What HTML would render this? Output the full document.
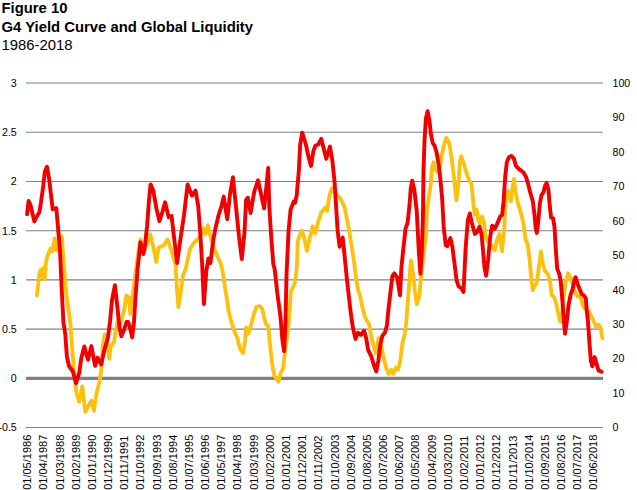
<!DOCTYPE html>
<html><head><meta charset="utf-8"><title>Figure 10</title>
<style>
html,body{margin:0;padding:0;background:#fff;}
body{width:637px;height:490px;overflow:hidden;position:relative;font-family:"Liberation Sans",sans-serif;color:#000;}
.t{position:absolute;left:1.5px;white-space:nowrap;font-size:14.85px;line-height:18px;}
.b{font-weight:bold;}
svg{position:absolute;left:0;top:0;}
svg text{font-family:"Liberation Sans",sans-serif;font-size:10.67px;fill:#000;}
</style></head><body>
<div class="t b" style="top:-0.7px">Figure 10</div>
<div class="t b" style="top:18.1px">G4 Yield Curve and Global Liquidity</div>
<div class="t" style="top:35.5px">1986-2018</div>
<svg width="637" height="490" viewBox="0 0 637 490">

<line x1="26" x2="603" y1="83.05" y2="83.05" stroke="#808080" stroke-width="1.1"/>
<line x1="26" x2="603" y1="132.27" y2="132.27" stroke="#808080" stroke-width="1.1"/>
<line x1="26" x2="603" y1="181.48" y2="181.48" stroke="#808080" stroke-width="1.1"/>
<line x1="26" x2="603" y1="230.70" y2="230.70" stroke="#808080" stroke-width="1.1"/>
<line x1="26" x2="603" y1="279.91" y2="279.91" stroke="#808080" stroke-width="1.1"/>
<line x1="26" x2="603" y1="329.13" y2="329.13" stroke="#808080" stroke-width="1.1"/>
<line x1="26" x2="603" y1="378.35" y2="378.35" stroke="#808080" stroke-width="3.2"/>
<line x1="26" x2="603" y1="427.56" y2="427.56" stroke="#808080" stroke-width="1.1"/>
<text x="16.8" y="86.85" text-anchor="end">3</text>
<text x="16.8" y="136.07" text-anchor="end">2.5</text>
<text x="16.8" y="185.28" text-anchor="end">2</text>
<text x="16.8" y="234.50" text-anchor="end">1.5</text>
<text x="16.8" y="283.71" text-anchor="end">1</text>
<text x="16.8" y="332.93" text-anchor="end">0.5</text>
<text x="16.8" y="382.15" text-anchor="end">0</text>
<text x="16.8" y="431.36" text-anchor="end">-0.5</text>
<text x="612.5" y="86.80">100</text>
<text x="612.5" y="121.26">90</text>
<text x="612.5" y="155.72">80</text>
<text x="612.5" y="190.18">70</text>
<text x="612.5" y="224.64">60</text>
<text x="612.5" y="259.10">50</text>
<text x="612.5" y="293.56">40</text>
<text x="612.5" y="328.02">30</text>
<text x="612.5" y="362.48">20</text>
<text x="612.5" y="396.94">10</text>
<text x="612.5" y="431.40">0</text>
<text style="font-size:11px" transform="translate(31.15,489.8) rotate(-90)">01/05/1986</text>
<text style="font-size:11px" transform="translate(47.33,489.8) rotate(-90)">01/04/1987</text>
<text style="font-size:11px" transform="translate(63.51,489.8) rotate(-90)">01/03/1988</text>
<text style="font-size:11px" transform="translate(79.69,489.8) rotate(-90)">01/02/1989</text>
<text style="font-size:11px" transform="translate(95.87,489.8) rotate(-90)">01/01/1990</text>
<text style="font-size:11px" transform="translate(112.05,489.8) rotate(-90)">01/12/1990</text>
<text style="font-size:11px" transform="translate(128.23,489.8) rotate(-90)">01/11/1991</text>
<text style="font-size:11px" transform="translate(144.41,489.8) rotate(-90)">01/10/1992</text>
<text style="font-size:11px" transform="translate(160.59,489.8) rotate(-90)">01/09/1993</text>
<text style="font-size:11px" transform="translate(176.77,489.8) rotate(-90)">01/08/1994</text>
<text style="font-size:11px" transform="translate(192.95,489.8) rotate(-90)">01/07/1995</text>
<text style="font-size:11px" transform="translate(209.13,489.8) rotate(-90)">01/06/1996</text>
<text style="font-size:11px" transform="translate(225.31,489.8) rotate(-90)">01/05/1997</text>
<text style="font-size:11px" transform="translate(241.49,489.8) rotate(-90)">01/04/1998</text>
<text style="font-size:11px" transform="translate(257.67,489.8) rotate(-90)">01/03/1999</text>
<text style="font-size:11px" transform="translate(273.85,489.8) rotate(-90)">01/02/2000</text>
<text style="font-size:11px" transform="translate(290.03,489.8) rotate(-90)">01/01/2001</text>
<text style="font-size:11px" transform="translate(306.21,489.8) rotate(-90)">01/12/2001</text>
<text style="font-size:11px" transform="translate(322.39,489.8) rotate(-90)">01/11/2002</text>
<text style="font-size:11px" transform="translate(338.57,489.8) rotate(-90)">01/10/2003</text>
<text style="font-size:11px" transform="translate(354.75,489.8) rotate(-90)">01/09/2004</text>
<text style="font-size:11px" transform="translate(370.93,489.8) rotate(-90)">01/08/2005</text>
<text style="font-size:11px" transform="translate(387.11,489.8) rotate(-90)">01/07/2006</text>
<text style="font-size:11px" transform="translate(403.29,489.8) rotate(-90)">01/06/2007</text>
<text style="font-size:11px" transform="translate(419.47,489.8) rotate(-90)">01/05/2008</text>
<text style="font-size:11px" transform="translate(435.65,489.8) rotate(-90)">01/04/2009</text>
<text style="font-size:11px" transform="translate(451.83,489.8) rotate(-90)">01/03/2010</text>
<text style="font-size:11px" transform="translate(468.01,489.8) rotate(-90)">01/02/2011</text>
<text style="font-size:11px" transform="translate(484.19,489.8) rotate(-90)">01/01/2012</text>
<text style="font-size:11px" transform="translate(500.37,489.8) rotate(-90)">01/12/2012</text>
<text style="font-size:11px" transform="translate(516.55,489.8) rotate(-90)">01/11/2013</text>
<text style="font-size:11px" transform="translate(532.73,489.8) rotate(-90)">01/10/2014</text>
<text style="font-size:11px" transform="translate(548.91,489.8) rotate(-90)">01/09/2015</text>
<text style="font-size:11px" transform="translate(565.09,489.8) rotate(-90)">01/08/2016</text>
<text style="font-size:11px" transform="translate(581.27,489.8) rotate(-90)">01/07/2017</text>
<text style="font-size:11px" transform="translate(597.45,489.8) rotate(-90)">01/06/2018</text>
<polyline fill="none" stroke="#FCC10C" stroke-width="3.8" stroke-linejoin="round" stroke-linecap="round" points="36.9,295.4 39.4,273.0 40.6,270.0 42.0,277.0 43.4,268.0 44.8,279.0 46.0,262.0 47.6,255.6 50.6,248.5 52.2,251.5 54.7,238.3 56.7,250.5 59.0,248.0 61.8,236.2 63.9,265.8 66.5,296.4 69.0,312.8 70.5,325.0 72.0,346.5 74.1,371.0 76.1,391.4 79.2,401.6 82.2,386.3 85.3,411.8 88.4,405.7 91.4,400.6 93.9,410.8 96.5,393.5 99.6,381.2 101.6,367.0 102.7,346.5 104.7,334.3 107.0,340.0 109.2,358.8 110.8,346.5 113.9,342.4 115.9,330.2 118.0,320.0 120.0,325.0 124.0,310.7 126.5,295.4 129.0,297.4 130.2,314.0 132.0,300.0 134.0,285.0 136.5,265.0 140.4,239.3 142.0,246.6 144.0,252.0 147.0,244.0 150.2,234.4 153.3,246.6 156.3,262.0 158.4,247.7 163.5,245.6 167.6,239.5 171.6,250.7 173.7,258.9 175.7,265.2 176.7,285.6 178.4,307.0 180.8,291.7 182.9,275.4 185.9,268.3 188.0,258.0 190.0,248.7 194.1,242.6 198.2,238.5 200.5,236.0 203.3,228.3 205.3,234.4 207.8,225.2 210.4,236.4 213.5,246.6 217.6,256.8 220.6,263.2 222.7,271.3 224.7,285.6 226.7,297.9 228.8,312.1 231.8,323.4 234.9,332.6 237.6,338.7 240.0,348.9 243.1,353.0 245.1,340.7 246.1,327.4 248.2,333.6 251.2,324.4 253.3,316.2 256.3,307.0 259.4,306.0 262.4,309.1 264.1,317.4 266.1,324.6 268.2,325.6 270.2,346.0 272.2,364.4 274.3,375.6 278.4,381.7 280.4,373.6 283.1,368.5 284.5,356.2 287.6,333.8 289.6,313.4 290.8,291.6 294.7,283.5 296.7,269.2 297.8,240.6 301.8,230.4 303.9,236.5 306.9,250.8 310.0,236.5 312.7,226.3 315.1,233.5 318.2,222.0 321.2,212.5 325.3,207.8 327.3,210.8 329.4,195.5 331.8,188.4 335.0,192.0 338.6,196.5 341.6,200.6 344.7,207.8 346.3,216.0 348.8,228.4 351.8,246.7 353.9,261.0 355.9,277.3 358.0,289.6 360.0,295.7 362.0,305.5 365.1,317.4 369.2,324.6 371.2,335.8 373.3,345.0 375.9,353.2 378.6,338.0 380.4,340.0 383.1,355.5 386.1,367.8 388.6,373.9 391.2,369.8 393.3,373.9 395.9,367.8 398.0,369.8 400.4,359.6 402.4,343.3 404.5,335.1 406.1,324.9 407.6,304.5 409.6,278.0 411.0,260.4 413.7,277.8 414.7,290.2 416.7,304.1 419.2,296.3 420.8,279.8 423.5,255.0 425.9,235.9 426.9,210.4 429.0,196.5 430.6,185.7 432.0,167.3 433.5,162.2 435.1,169.4 437.5,172.0 440.2,165.3 442.2,153.1 444.3,143.9 446.3,137.8 449.4,143.9 451.4,157.1 453.5,173.5 455.5,191.8 456.5,200.2 458.6,181.6 460.0,161.2 461.2,156.1 463.7,163.3 466.7,173.5 468.8,179.6 471.4,183.7 472.9,198.0 473.5,206.3 474.9,214.5 476.5,209.4 478.4,220.6 480.0,223.7 482.0,216.5 484.1,222.7 485.5,236.9 488.0,242.0 491.2,245.1 494.7,250.2 497.3,239.0 499.4,233.9 502.0,251.2 504.1,230.8 505.2,207.3 506.8,193.1 508.3,191.0 510.9,201.2 512.3,189.0 514.0,178.8 515.4,191.0 517.4,201.2 520.5,211.4 523.6,223.7 525.6,240.2 527.7,244.3 529.7,260.6 531.3,279.0 532.8,290.2 534.8,285.1 536.8,283.1 538.9,266.7 540.9,251.4 543.0,264.7 545.0,270.8 547.7,273.9 549.7,279.0 551.7,295.3 554.2,297.3 556.2,303.5 558.7,315.7 560.3,321.8 562.5,310.0 565.4,283.0 568.1,273.3 570.9,278.0 573.6,287.1 575.6,293.3 577.7,296.3 580.7,297.3 582.8,305.5 584.8,308.6 587.9,309.6 589.9,313.7 593.0,319.8 596.0,326.5 598.5,324.5 600.7,328.0 602.3,338.3"/>
<polyline fill="none" stroke="#F20000" stroke-width="3.9" stroke-linejoin="round" stroke-linecap="round" points="27.1,214.3 28.6,201.0 30.5,205.0 34.3,221.4 37.0,216.0 39.4,212.2 40.9,203.0 43.3,185.5 44.8,172.0 46.9,166.7 49.0,178.0 52.7,209.2 56.3,208.2 57.8,225.0 60.0,250.0 61.5,285.0 63.4,322.0 65.3,334.3 66.9,356.7 69.0,366.0 72.7,371.0 76.1,383.3 79.2,373.0 81.2,358.8 84.3,346.5 88.0,359.8 91.4,346.1 95.1,365.9 97.6,357.8 101.2,364.5 104.7,348.6 107.8,338.4 110.0,322.0 112.0,300.0 114.9,285.2 117.5,308.0 119.5,328.0 121.4,336.3 124.0,330.0 126.5,322.0 128.2,322.0 130.0,328.0 132.2,337.3 134.0,322.0 135.3,300.0 137.5,270.0 140.4,242.3 143.4,254.0 145.0,245.0 147.1,226.2 149.0,200.0 150.6,184.4 153.3,190.5 156.3,207.9 159.4,221.1 162.4,212.0 165.1,202.3 168.6,217.0 171.6,216.0 173.7,234.4 177.1,263.0 180.8,236.4 183.9,216.0 187.6,184.4 192.0,195.6 195.5,190.5 198.2,205.8 200.2,232.3 202.2,265.0 203.9,304.0 206.3,271.3 208.4,258.5 210.4,263.0 213.5,238.5 215.5,228.3 218.6,215.0 221.6,205.8 223.7,196.6 227.3,219.1 229.8,195.6 232.9,177.2 235.9,205.8 239.0,236.4 241.8,259.0 244.5,232.3 246.1,199.7 247.8,197.7 250.6,213.0 254.3,191.5 258.0,180.3 261.4,195.6 264.1,208.4 266.5,185.4 268.2,168.0 269.2,205.0 271.2,236.5 273.3,264.1 274.7,269.2 277.3,293.0 280.4,316.0 282.4,339.9 284.1,351.1 285.5,322.0 286.5,275.0 288.6,230.4 290.6,209.8 293.7,201.6 295.1,202.7 296.7,195.5 298.8,171.0 300.2,144.5 302.2,132.7 305.9,144.5 309.0,158.8 311.0,165.9 313.5,150.6 315.5,145.5 318.2,144.5 321.2,138.8 323.7,148.6 326.3,158.8 330.0,146.5 332.4,160.8 334.5,181.2 335.9,203.0 337.6,230.4 339.6,246.7 342.7,237.6 344.1,250.8 346.7,277.3 348.8,296.0 350.8,313.4 352.9,327.7 355.5,338.9 358.0,332.8 361.0,334.8 364.1,330.7 366.1,337.9 368.2,350.1 371.2,356.2 374.3,366.4 376.3,371.5 378.4,360.3 380.4,344.0 382.4,335.8 384.9,332.8 386.9,325.6 388.6,308.0 391.2,286.1 392.4,276.0 394.3,273.3 397.3,277.8 400.0,295.3 401.4,267.6 403.5,247.1 405.5,228.8 407.6,222.7 409.6,204.3 410.8,188.0 412.2,180.6 414.3,189.8 416.7,210.4 418.8,251.2 420.4,273.7 421.8,251.2 422.9,220.6 423.5,171.4 424.5,140.8 425.9,118.4 427.6,111.2 429.4,120.4 431.0,134.7 432.7,142.9 434.7,145.9 436.7,153.1 438.8,165.3 440.2,177.6 442.2,199.0 443.7,226.7 445.7,245.1 447.3,246.1 450.4,238.0 452.4,247.1 454.5,263.5 456.5,279.8 458.6,286.5 461.6,288.5 463.5,292.0 465.7,247.1 467.8,220.6 469.8,213.5 471.8,222.7 474.9,233.9 476.9,231.8 479.6,226.7 481.6,234.9 483.1,251.2 484.5,267.6 486.1,275.7 488.2,259.4 490.2,236.9 492.2,225.7 494.7,228.8 497.3,223.7 500.1,216.5 502.1,215.0 503.6,201.2 505.2,176.7 506.8,162.4 508.9,157.3 511.3,155.9 513.8,158.4 515.8,165.5 518.5,168.6 521.1,170.6 523.6,172.7 526.0,176.7 528.1,183.9 530.1,192.0 532.8,201.2 534.4,213.5 535.8,228.8 536.8,232.9 538.3,221.6 539.9,203.3 541.5,195.1 543.6,192.0 545.0,185.9 546.6,182.9 548.5,190.0 549.7,205.3 551.1,217.6 553.2,218.6 554.6,228.0 555.6,246.3 557.2,268.8 559.3,273.9 560.7,281.0 562.3,299.4 563.8,319.8 565.0,333.7 566.8,321.8 568.5,305.5 570.5,295.3 572.6,289.2 574.2,281.0 575.6,277.3 577.7,284.1 579.7,289.2 581.7,294.3 583.8,295.3 585.8,298.4 586.8,311.6 587.9,320.4 589.3,340.8 590.9,361.2 592.3,366.3 594.6,357.1 596.4,363.3 598.5,370.4 601.6,371.8"/>
</svg></body></html>
